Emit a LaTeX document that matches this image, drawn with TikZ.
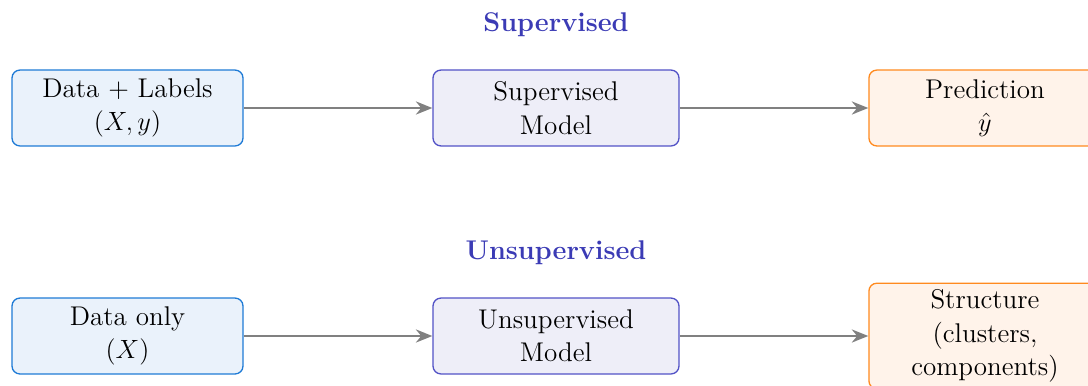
\documentclass[tikz,border=0pt,12pt]{standalone}
\usetikzlibrary{arrows.meta}

\definecolor{inputfill}{HTML}{EAF2FB}
\definecolor{inputdraw}{HTML}{1F7BD6}
\definecolor{modelfill}{HTML}{EEEEF8}
\definecolor{modeldraw}{HTML}{5252C6}
\definecolor{outfill}{HTML}{FFF3EA}
\definecolor{outdraw}{HTML}{FF8A1F}
\definecolor{titlecol}{HTML}{3B3BB5}
\definecolor{flowcol}{HTML}{808080}

\tikzset{
  box/.style={rounded corners=3.6pt, line width=0.6pt, align=center,
    minimum height=34.5pt, inner sep=2pt, font=\fontsize{12.3}{15.2}\selectfont},
  inbox/.style={box, fill=inputfill, draw=inputdraw, minimum width=105pt},
  modelbox/.style={box, fill=modelfill, draw=modeldraw, minimum width=111.8pt},
  outbox/.style={box, fill=outfill, draw=outdraw, minimum width=105.5pt},
  title/.style={font=\fontsize{12.3}{15}\selectfont\bfseries, text=titlecol},
  flow/.style={-{Stealth[length=7.5pt,width=6pt]}, draw=flowcol, line width=0.9pt}
}

\begin{document}
\begin{tikzpicture}[x=0.4545pt, y=-0.4545pt]
  \useasboundingbox (0,0) rectangle (1088,385);
  \clip (0,0) rectangle (1088,385);

  % supervised pipeline
  \node[title] (suptitle) at (556,25) {Supervised};
  \node[inbox] (supdata) at (127.5,108) {Data + Labels\\$(X,y)$};
  \node[modelbox] (supmodel) at (556,108) {Supervised\\Model};
  \node[outbox] (supout) at (985,108) {Prediction\\$\hat{y}$};
  \draw[flow] (supdata) -- (supmodel);
  \draw[flow] (supmodel) -- (supout);

  % unsupervised pipeline
  \node[title] (unsuptitle) at (556,253) {Unsupervised};
  \node[inbox] (unsupdata) at (127.5,336) {Data only\\$(X)$};
  \node[modelbox] (unsupmodel) at (556,336) {Unsupervised\\Model};
  \node[outbox, minimum height=48pt] (unsupout) at (985,336) {Structure\\(clusters,\\components)};
  \draw[flow] (unsupdata) -- (unsupmodel);
  \draw[flow] (unsupmodel) -- (unsupout);
\end{tikzpicture}
\end{document}
